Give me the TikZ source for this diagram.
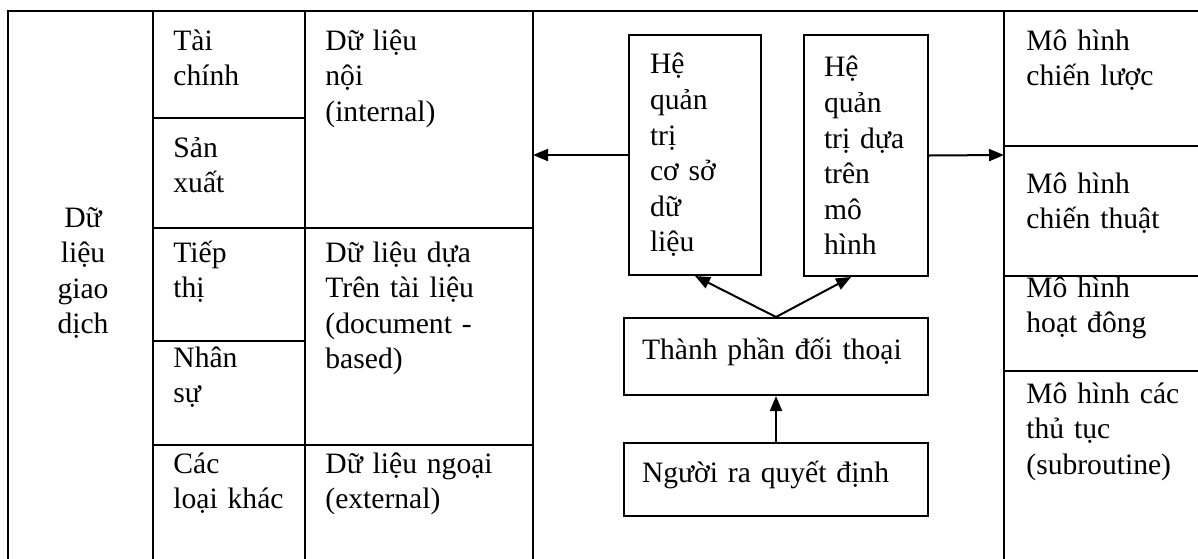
\documentclass[tikz,border=0pt]{standalone}
\usepackage{fontspec}
\setmainfont{Liberation Serif}
\usetikzlibrary{arrows.meta}
\tikzset{
	cell/.style={anchor=base west, inner sep=0pt, text width=#1, align=left},
	cell/.default=95pt,
	box/.style={draw, line width=1pt, inner sep=0pt, align=left},
	arr/.style={line width=1pt, -{Triangle[length=7.5pt,width=6pt]}}
}

\begin{document}
\begin{tikzpicture}[x=0.5pt, y=-0.5pt, font=\fontsize{14.8}{17.8}\selectfont]
			%%%%% START %%%%%
			\clip (0, 0) rectangle (1198, 558);
			\fill[white] (0, 0) rectangle (1198, 558);
			
			% table frame
			\draw[line width=1pt] (8, 560) -- (8, 11) -- (1200, 11);
			\draw[line width=1pt] (153, 11) -- (153, 560);
			\draw[line width=1pt] (305, 11) -- (305, 560);
			\draw[line width=1pt] (533, 11) -- (533, 560);
			\draw[line width=1pt] (1004, 11) -- (1004, 560);
			
			\draw[line width=1pt] (153, 118) -- (305, 118);
			\draw[line width=1pt] (153, 228) -- (533, 228);
			\draw[line width=1pt] (153, 341) -- (305, 341);
			\draw[line width=1pt] (153, 445) -- (533, 445);
			
			\draw[line width=1pt] (1004, 146) -- (1200, 146);
			\draw[line width=1pt] (1004, 276) -- (1200, 276);
			\draw[line width=1pt] (1004, 371) -- (1200, 371);
			
			% cells
			\node[anchor=base, inner sep=0pt, text width=70pt, align=center] (giaodich) at (83, 227) {Dữ\\liệu\\giao\\dịch};
			
			\node[cell=64pt] (taichinh) at (173, 50) {Tài\\chính};
			\node[cell=64pt] (sanxuat) at (173, 157) {Sản\\xuất};
			\node[cell=64pt] (tiepthi) at (173, 262) {Tiếp\\thị};
			\node[cell=64pt] (nhansu) at (173, 367) {Nhân\\sự};
			\node[cell=64pt] (khac) at (173, 473) {Các\\loại khác};
			
			\node[cell] (noi) at (325, 50) {Dữ liệu\\nội\\(internal)};
			\node[cell] (tailieu) at (325, 262) {Dữ liệu dựa\\Trên tài liệu\\(document -\\based)};
			\node[cell] (ngoai) at (325, 473) {Dữ liệu ngoại\\(external)};
			
			\node[cell=85pt] (chienluoc) at (1026, 50) {Mô hình\\chiến lược};
			\node[cell=85pt] (chienthuat) at (1026, 193) {Mô hình\\chiến thuật};
			\node[cell=85pt] (hoatdong) at (1026, 297) {Mô hình\\hoạt đông};
			\node[cell=85pt] (thutuc) at (1026, 403) {Mô hình các\\thủ tục\\(subroutine)};
			
			% middle boxes
			\node[box, text width=45pt, minimum width=66pt, minimum height=120pt] (csdl) at (695, 155) {Hệ\\quản\\trị\\cơ sở\\dữ\\liệu};
			\node[box, text width=42pt, minimum width=62pt, minimum height=120.5pt] (mohinh) at (866, 155.5) {Hệ\\quản\\trị dựa\\trên\\mô\\hình};
			\node[box, text width=134pt, minimum width=152pt, minimum height=38.5pt, text height=11pt, text depth=8pt] (doithoai) at (776, 356.5) {Thành phần đối thoại};
			\node[box, text width=134pt, minimum width=152pt, minimum height=36.5pt, text height=11pt, text depth=8pt] (nguoi) at (776, 479.5) {Người ra quyết định};
			
			\coordinate (tbl-l) at (533, 155);
			\coordinate (tbl-r) at (1004, 155);
			
			% arrows
			\draw[arr] (csdl.west) -- (tbl-l);
			\draw[arr] (mohinh.east) -- (tbl-r);
			\draw[arr] (nguoi.north) -- (doithoai.south);
			\draw[arr] (doithoai.north) -- (csdl.south);
			\draw[arr] (doithoai.north) -- (mohinh.263);
			
			%%%%% END %%%%%
\end{tikzpicture}
\end{document}
